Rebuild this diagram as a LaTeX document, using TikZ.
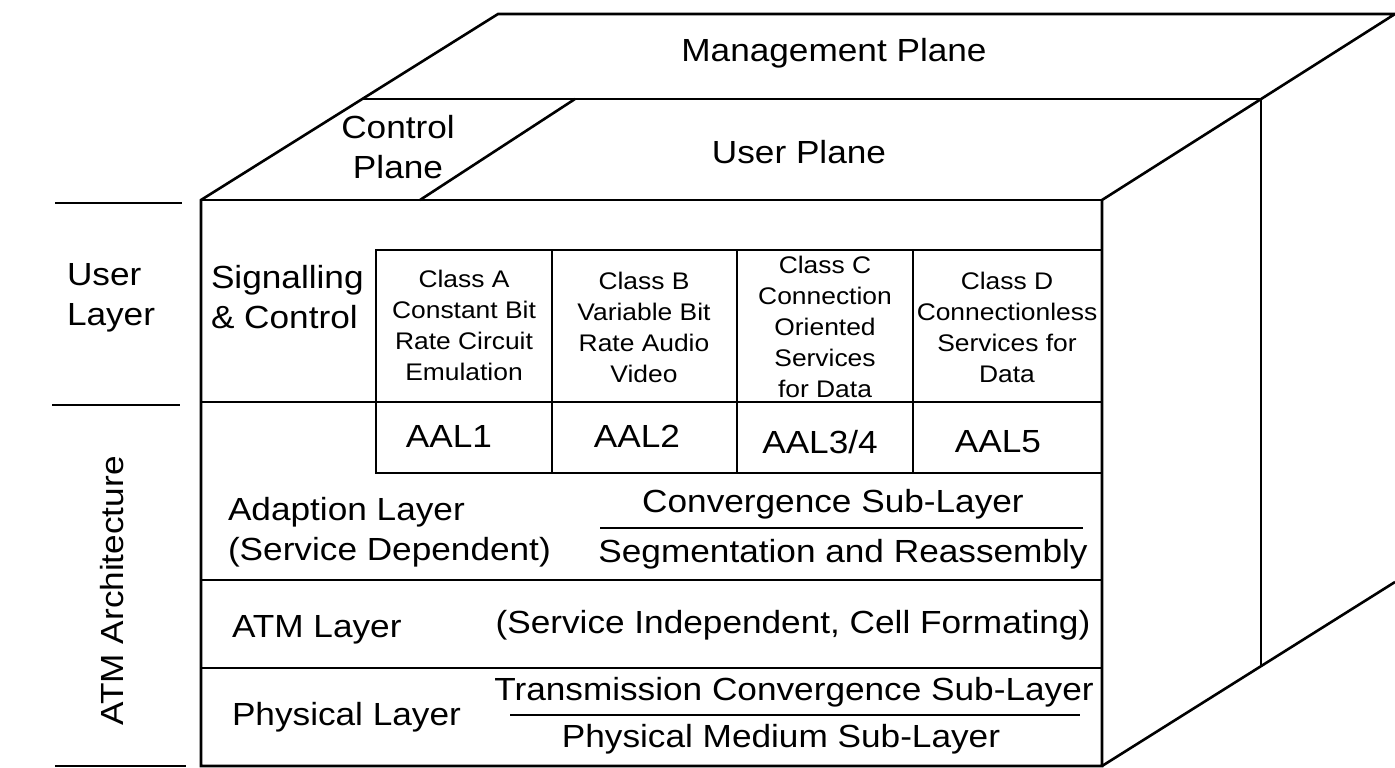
\documentclass[tikz,border=0pt]{standalone}
\usepackage{fontspec}
\setmainfont{Liberation Sans}[FakeStretch=1.1]
\newcommand\bigf{\fontsize{32}{40}\selectfont}
\newcommand\clsf{\fontsize{24}{31}\selectfont}
\begin{document}
\begin{tikzpicture}[x=1pt,y=-1pt,
  edge/.style={line width=2.6pt},
  thin edge/.style={line width=2.3pt},
  lbl/.style={inner sep=0pt, outer sep=0pt, font=\bigf},
  cls/.style={inner sep=0pt, outer sep=0pt, font=\clsf, align=center, anchor=north}]
\useasboundingbox (0,0) rectangle (1395,768);
% cube corners
\coordinate (F1) at (201,200);
\coordinate (F2) at (1102,200);
\coordinate (F3) at (1102,766);
\coordinate (F4) at (201,766);
\coordinate (T1) at (498,14);
\coordinate (T2) at (1395,14);
\coordinate (M1) at (361,99);
\coordinate (M2) at (1261,99);
\coordinate (D1) at (420,200);
\coordinate (D2) at (575,99);
\coordinate (V2) at (1261,666);
\coordinate (B2) at (1395,582);
\draw[edge] (F4) -- (F1) -- (T1) -- (T2) -- (F2) -- (F3) -- cycle;
\draw[edge] (F1) -- (F2);
\draw[edge] (M1) -- (M2) -- (V2);
\draw[edge] (D1) -- (D2);
\draw[edge] (F3) -- (B2);
% class table
\draw[edge] (376,250) rectangle (1102,473);
\draw[edge] (201,402) -- (1102,402);
\foreach \cx in {552,737,913} \draw[edge] (\cx,250) -- (\cx,473);
% layer separators
\draw[edge] (201,580) -- (1102,580);
\draw[edge] (201,668) -- (1102,668);
\draw[thin edge] (600,528) -- (1083,528);
\draw[thin edge] (510,715) -- (1080,715);
% left markers
\draw[thin edge] (55,203) -- (182,203);
\draw[thin edge] (52,405) -- (180,405);
\draw[thin edge] (55,766) -- (186,766);
% plane labels
\node[lbl, anchor=base] (mgmt) at (834,62) {Management Plane};
\node[lbl, anchor=base] (user) at (799,163) {User Plane};
\node[lbl, align=center, anchor=north] (ctrl) at (398,115) {Control\\Plane};
% left labels
\node[lbl, align=left, anchor=north west] (ulayer) at (67,263) {User\\Layer};
\node[lbl, anchor=base, rotate=90] (atmarch) at (123,591) {ATM Architecture};
\node[lbl, align=left, anchor=north west] (sig) at (211,265) {Signalling\\\& Control};
% classes
\node[cls] (ca) at (464,270) {Class A\\Constant Bit\\Rate Circuit\\Emulation};
\node[cls] (cb) at (644,272) {Class B\\Variable Bit\\Rate Audio\\Video};
\node[cls] (cc) at (825,256) {Class C\\Connection\\Oriented\\Services\\for Data};
\node[cls] (cd) at (1007,272) {Class D\\Connectionless\\Services for\\Data};
% AAL
\node[lbl, anchor=base] (aal1) at (449,447) {AAL1};
\node[lbl, anchor=base] (aal2) at (637,447) {AAL2};
\node[lbl, anchor=base] (aal34) at (820,453) {AAL3/4};
\node[lbl, anchor=base] (aal5) at (998,452) {AAL5};
% adaption layer
\node[lbl, align=left, anchor=north west] (adapt) at (228,497) {Adaption Layer\\(Service Dependent)};
\node[lbl, anchor=base] (cs) at (833,512) {Convergence Sub-Layer};
\node[lbl, anchor=base] (sar) at (843,562) {Segmentation and Reassembly};
% ATM layer
\node[lbl, anchor=base west] (atm) at (232,637) {ATM Layer};
\node[lbl, anchor=base] (atmd) at (793,633) {(Service Independent, Cell Formating)};
% physical layer
\node[lbl, anchor=base west] (phy) at (232,725) {Physical Layer};
\node[lbl, anchor=base] (tc) at (794,700) {Transmission Convergence Sub-Layer};
\node[lbl, anchor=base] (pm) at (781,747) {Physical Medium Sub-Layer};
\end{tikzpicture}
\end{document}
